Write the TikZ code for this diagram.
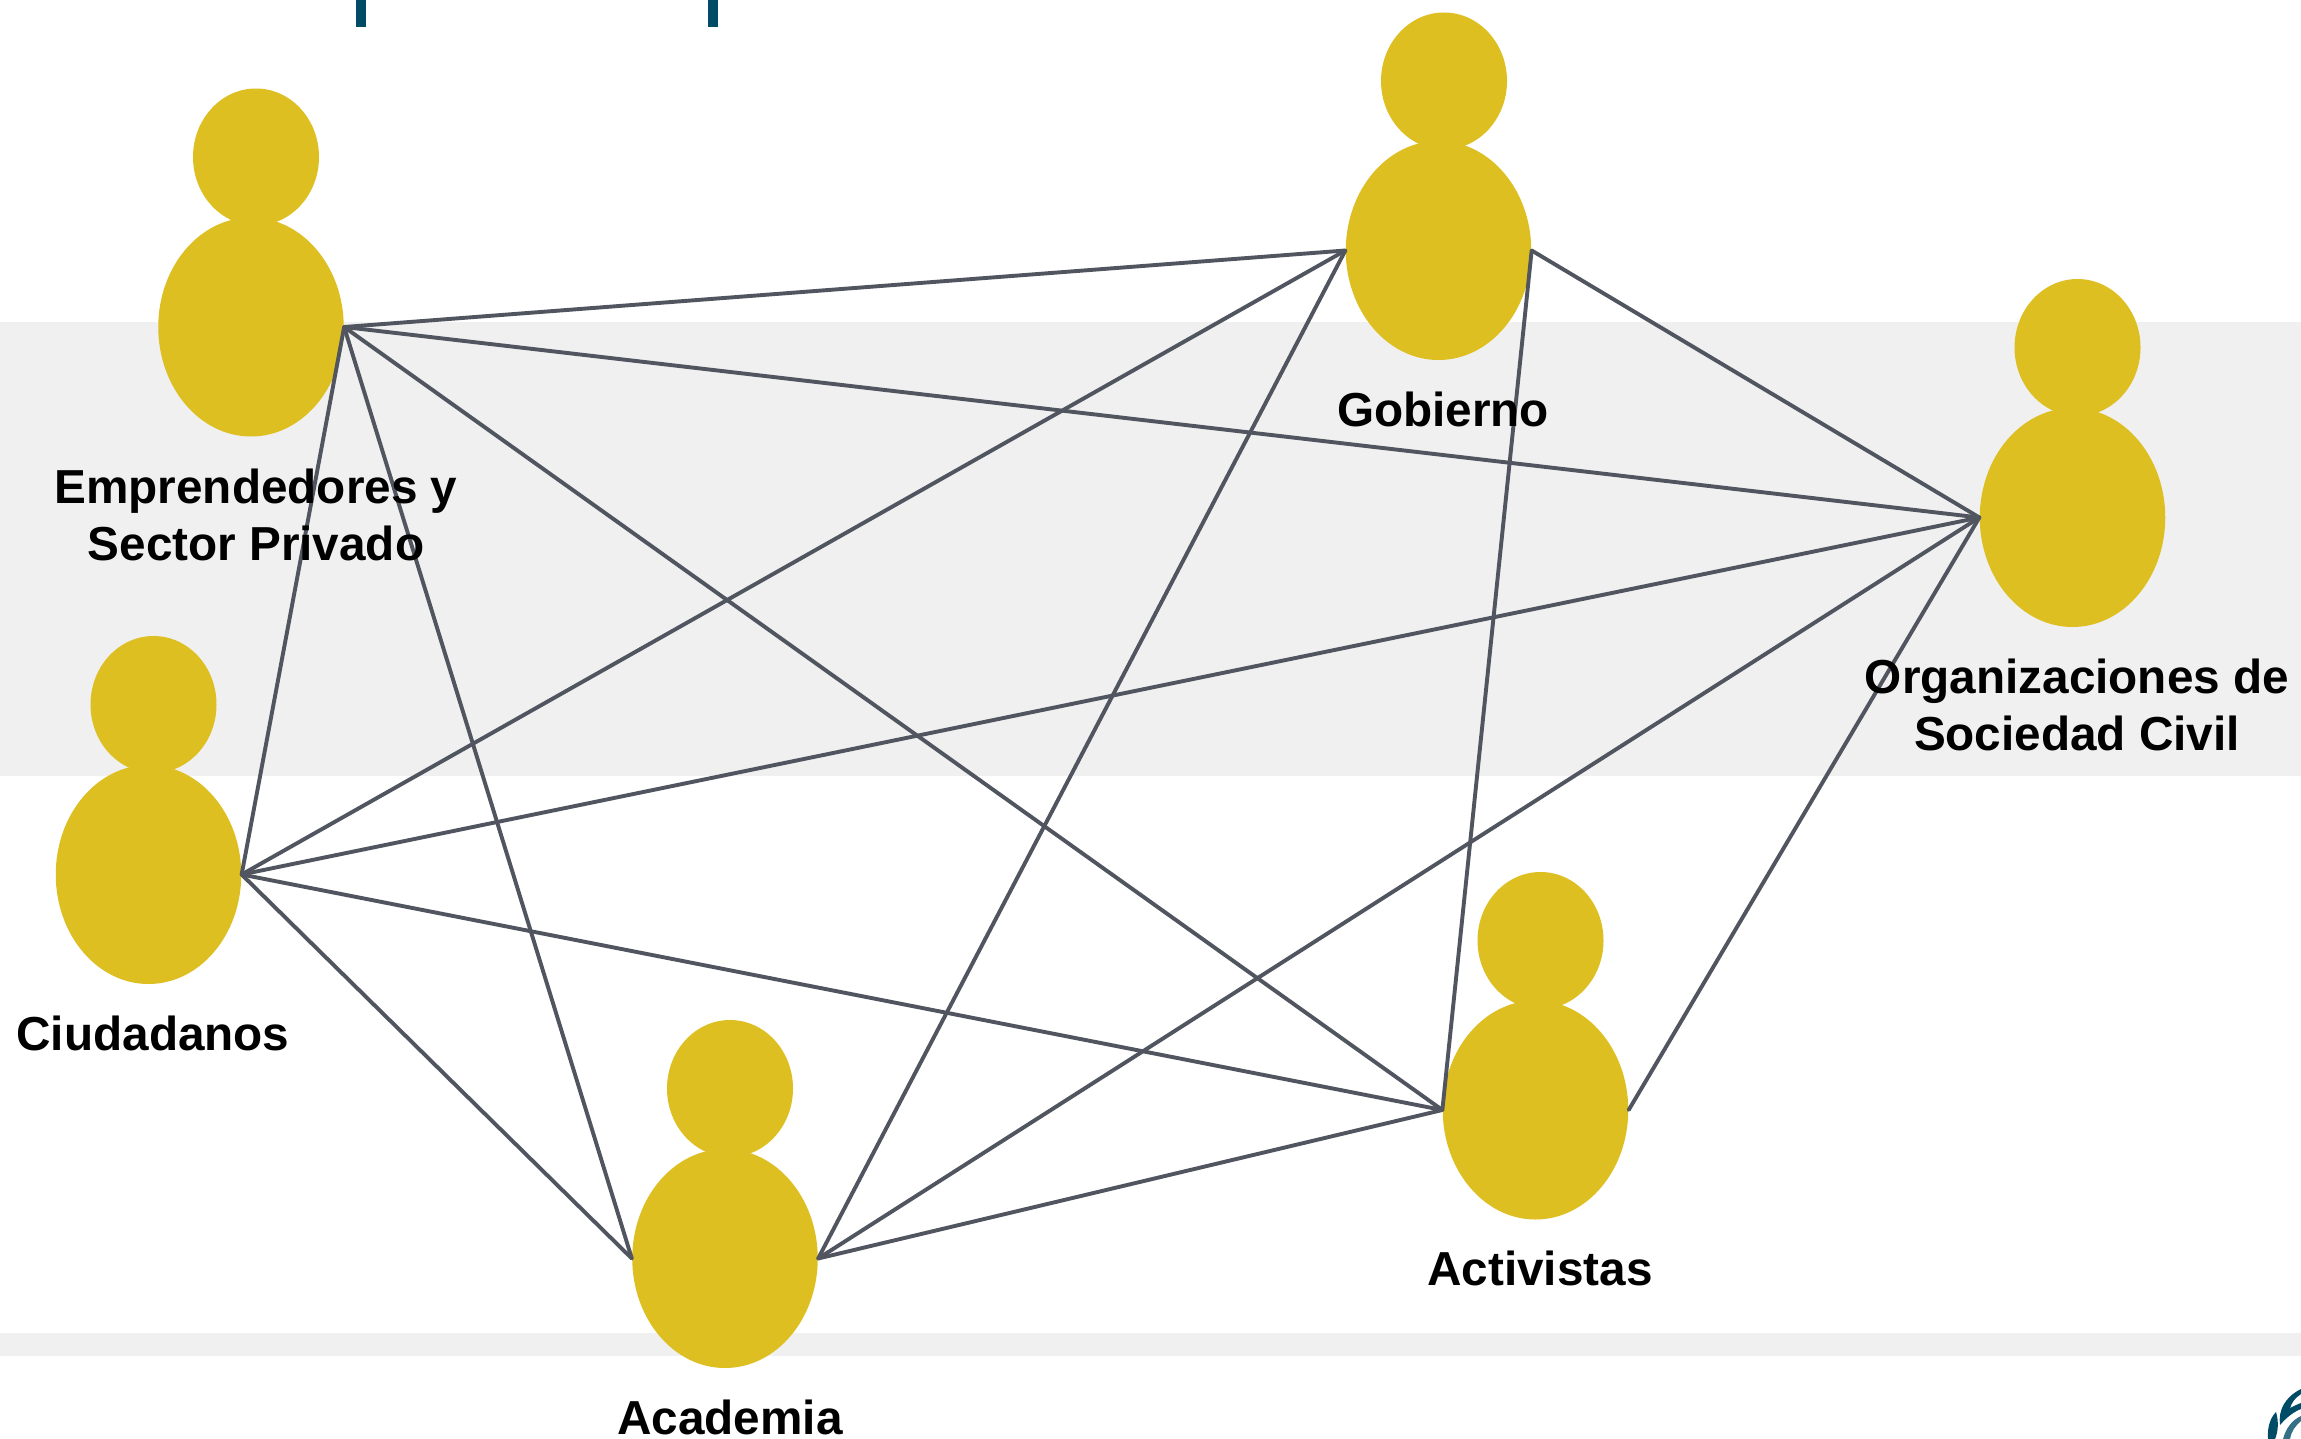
\documentclass[tikz,border=0pt]{standalone}
\usepackage{fontspec}
\setmainfont{Liberation Sans}
\usetikzlibrary{shapes.geometric}
\definecolor{gold}{HTML}{DDBF22}
\definecolor{band}{HTML}{F0F0F0}
\definecolor{wire}{HTML}{50555F}
\definecolor{teal}{HTML}{004B66}
\tikzset{
  x=0.5pt,y=-0.5pt,
  body/.style={ellipse,fill=gold,inner sep=0pt,minimum width=92.75pt,minimum height=109.5pt},
  head/.style={ellipse,fill=gold,inner sep=0pt,minimum width=63pt,minimum height=68.5pt},
  link/.style={draw=wire,line width=1.95pt,line cap=round},
  lab/.style={font=\fontsize{23.85}{28.6}\selectfont\bfseries,text=black,align=center,inner sep=0pt},
}
\begin{document}
\begin{tikzpicture}
\useasboundingbox (0,0) rectangle (2301,1439);
\fill[white] (0,0) rectangle (2301,1439);
\fill[band] (0,322) rectangle (2301,776);
\fill[band] (0,1333) rectangle (2301,1356);
\fill[teal] (356,0) rectangle (366,27);
\fill[teal] (708,0) rectangle (718,27);
% logo
\fill[teal] (2268,1439) .. controls (2267,1426) and (2271,1417) .. (2276,1412) .. controls (2279,1422) and (2278,1432) .. (2275,1439) -- cycle;
\fill[teal] (2280,1425) .. controls (2278,1410) and (2285,1397) .. (2301,1389) -- (2301,1394) .. controls (2295,1398) and (2292,1402) .. (2290,1408) .. controls (2294,1406) and (2298,1404) .. (2301,1403) -- (2301,1409) .. controls (2293,1412) and (2286,1418) .. (2280,1425) -- cycle;
\fill[teal!80!white] (2283,1439) .. controls (2286,1428) and (2292,1420) .. (2301,1416) -- (2301,1421) .. controls (2295,1426) and (2291,1432) .. (2290,1439) -- cycle;
% people
\node[head] (h1) at (256,157) {};
\node[body] (emp) at (251,327) {};
\node[head] (h2) at (1444,81) {};
\node[body] (gob) at (1438.5,250.5) {};
\node[head] (h3) at (2077.5,347.5) {};
\node[body] (org) at (2072.5,517.5) {};
\node[head] (h4) at (153.5,704.5) {};
\node[body] (ciu) at (148.5,874.5) {};
\node[head] (h5) at (730,1088.5) {};
\node[body] (aca) at (725,1258.5) {};
\node[head] (h6) at (1540.5,940.5) {};
\node[body] (act) at (1535.5,1110) {};
% links
\draw[link] (emp.east) -- (gob.west);
\draw[link] (emp.east) -- (org.west);
\draw[link] (emp.east) -- (ciu.east);
\draw[link] (emp.east) -- (aca.west);
\draw[link] (emp.east) -- (act.west);
\draw[link] (gob.west) -- (ciu.east);
\draw[link] (gob.west) -- (aca.east);
\draw[link] (gob.east) -- (org.west);
\draw[link] (gob.east) -- (act.west);
\draw[link] (org.west) -- (ciu.east);
\draw[link] (org.west) -- (aca.east);
\draw[link] (org.west) -- (act.east);
\draw[link] (ciu.east) -- (act.west);
\draw[link] (ciu.east) -- (aca.west);
\draw[link] (aca.east) -- (act.west);
% labels
\node[lab] (l1) at (256,515) {Emprendedores y\\Sector Privado};
\node[lab] (l2) at (1443,409) {Gobierno};
\node[lab] (l3) at (2077,705) {Organizaciones de\\Sociedad Civil};
\node[lab] (l4) at (153,1033) {Ciudadanos};
\node[lab] (l5) at (730,1417) {Academia};
\node[lab] (l6) at (1540,1268) {Activistas};
\end{tikzpicture}
\end{document}
